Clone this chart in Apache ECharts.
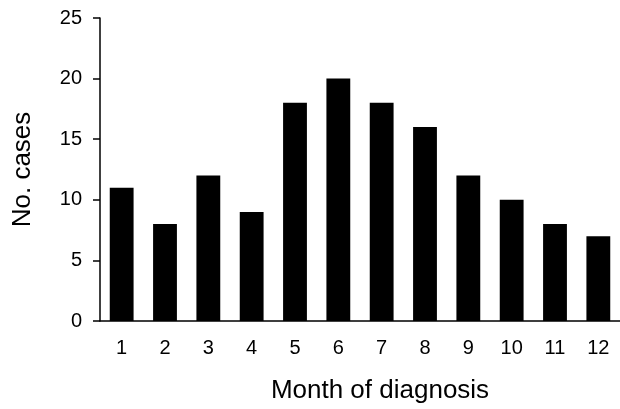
<!DOCTYPE html>
<html>
<head>
<meta charset="utf-8">
<script src="https://cdn.jsdelivr.net/npm/echarts@6/dist/echarts.min.js"></script>
<style>
html,body{margin:0;padding:0;background:#fff;}
#chart{width:620px;height:409px;}
</style>
</head>
<body>
<div id="chart"></div>
<script>
const months = ['1','2','3','4','5','6','7','8','9','10','11','12'];
const cases = [11, 8, 12, 9, 18, 20, 18, 16, 12, 10, 8, 7];
const yTicks = [0, 5, 10, 15, 20, 25];

const chart = echarts.init(document.getElementById('chart'), null, {renderer: 'canvas'});
const font = 'Liberation Sans, Arial, sans-serif';
chart.setOption({
  animation: false,
  backgroundColor: '#fff',
  grid: {left: 100, right: 0, top: 18, bottom: 87, containLabel: false},
  xAxis: {
    type: 'category',
    data: months,
    name: 'Month of diagnosis',
    nameLocation: 'middle',
    nameGap: 57,
    nameTextStyle: {fontFamily: font, fontSize: 26, color: '#000', padding: [0, 0, 0, 40]},
    axisLine: {lineStyle: {color: '#000', width: 1.5}},
    axisTick: {show: false},
    axisLabel: {fontFamily: font, fontSize: 20, color: '#000', margin: 17}
  },
  yAxis: {
    type: 'value',
    min: 0, max: 25, interval: 5,
    name: 'No. cases',
    nameLocation: 'middle',
    nameGap: 64,
    nameTextStyle: {fontFamily: font, fontSize: 26, color: '#000'},
    axisLine: {show: true, lineStyle: {color: '#000', width: 1.5}},
    axisTick: {show: true, length: 7, lineStyle: {color: '#000', width: 1.5}},
    axisLabel: {fontFamily: font, fontSize: 20, color: '#000', margin: 18,
      formatter: v => yTicks.includes(v) ? String(v) : ''},
    splitLine: {show: false}
  },
  series: [{
    type: 'bar',
    data: cases,
    barWidth: '55%',
    itemStyle: {color: '#000'}
  }]
});
</script>
</body>
</html>
